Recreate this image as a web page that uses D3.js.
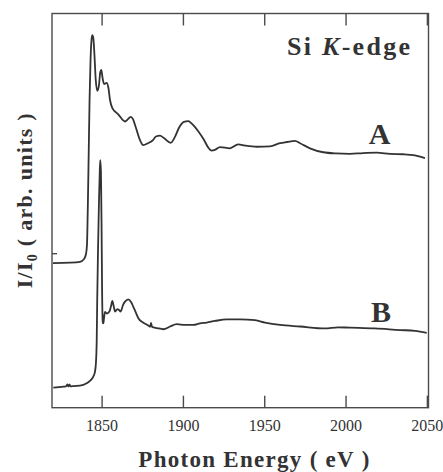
<!DOCTYPE html>
<html>
<head>
<meta charset="utf-8">
<script src="https://cdn.jsdelivr.net/npm/d3@7"></script>
<style>
  body { margin: 0; background: #fff; }
  text { font-family: "Liberation Serif", "Times New Roman", serif; fill: #333; }
</style>
</head>
<body>
<script>
// photon energy (eV) / intensity (arb. units)
var energyA = [1820.1, 1830.6, 1836.7, 1839.2, 1840.4, 1841.0, 1841.6, 1842.1, 1842.6, 1843.2, 1843.8, 1844.3, 1844.9, 1845.6, 1846.4, 1847.4, 1848.4, 1849.2, 1849.8, 1850.6, 1851.5, 1853.1, 1854.2, 1855.2, 1856.6, 1860.1, 1864.4, 1866.2, 1867.9, 1869.3, 1871.1, 1873.6, 1875.6, 1878.5, 1881.6, 1883.4, 1885.9, 1888.3, 1892.5, 1895.1, 1897.6, 1900.6, 1903.3, 1905.6, 1909.3, 1913.0, 1915.4, 1917.7, 1919.7, 1922.8, 1928.9, 1934.0, 1938.2, 1945.4, 1953.5, 1959.7, 1964.0, 1968.9, 1972.0, 1978.1, 1986.3, 1994.1, 2002.7, 2010.7, 2019.1, 2027.3, 2035.5, 2042.7, 2048.8];
var intensityA = [36.7, 36.8, 37.0, 37.7, 39.0, 41.3, 52.7, 65.4, 78.1, 88.2, 93.3, 94.5, 93.8, 89.5, 83.1, 80.4, 81.9, 85.2, 85.7, 83.6, 82.1, 82.4, 81.1, 78.0, 76.0, 74.5, 72.6, 73.2, 73.8, 73.2, 71.0, 67.9, 66.6, 67.1, 67.9, 68.8, 69.0, 68.4, 67.2, 68.7, 71.0, 72.5, 72.7, 72.0, 70.2, 67.9, 66.1, 65.2, 65.4, 66.1, 65.8, 66.8, 66.5, 66.2, 66.3, 67.1, 67.4, 67.7, 67.1, 65.8, 64.8, 64.5, 64.4, 64.6, 64.7, 64.4, 64.3, 64.0, 63.3];

var energyB = [1820.3, 1825.6, 1828.1, 1829.0, 1829.6, 1830.3, 1830.9, 1832.6, 1836.7, 1840.8, 1842.8, 1844.9, 1845.9, 1846.5, 1847.0, 1847.3, 1847.8, 1848.4, 1848.9, 1849.2, 1849.6, 1850.0, 1850.3, 1850.7, 1851.1, 1851.5, 1852.1, 1853.2, 1854.8, 1855.8, 1856.6, 1857.4, 1858.3, 1859.7, 1860.7, 1861.7, 1863.2, 1864.4, 1866.4, 1868.1, 1869.5, 1871.2, 1872.6, 1875.5, 1878.5, 1879.8, 1880.4, 1881.0, 1884.1, 1888.0, 1892.1, 1896.2, 1901.3, 1906.4, 1910.5, 1914.6, 1919.7, 1926.9, 1935.1, 1944.3, 1950.5, 1959.7, 1972.0, 1987.4, 1995.4, 2002.7, 2018.1, 2033.5, 2042.7, 2049.9];
var intensityB = [5.1, 5.3, 5.4, 5.9, 5.4, 5.9, 5.4, 5.5, 5.6, 6.2, 6.8, 7.9, 9.1, 11.3, 17.2, 27.3, 40.0, 52.7, 60.3, 62.8, 59.8, 45.1, 29.9, 21.7, 21.4, 22.8, 24.3, 23.9, 24.4, 25.8, 27.1, 25.8, 24.4, 25.0, 24.8, 24.4, 26.1, 26.9, 27.5, 26.8, 25.6, 24.0, 22.7, 21.6, 20.9, 20.5, 21.5, 20.5, 20.2, 19.9, 20.6, 21.2, 21.0, 21.0, 21.4, 21.6, 22.0, 22.4, 22.4, 22.2, 21.6, 21.0, 20.6, 20.1, 20.4, 20.3, 20.1, 19.7, 19.5, 19.0];

var xTicks = [1850, 1900, 1950, 2000, 2050];
var yTicks = [39.2];
var seriesNames = ["A", "B"];
var seriesLabelPos = [[2020.9, 66.9], [2021.8, 21.8]];

var screen = {width: 443, height: 472};
var plot = {left: 52, right: 428.5, top: 13.5, bottom: 407.7};

var svg = d3.select("body")
            .append("svg")
            .attr("width", screen.width)
            .attr("height", screen.height);

var xScale = d3.scaleLinear()
               .domain([1819.5, 2051])
               .range([plot.left, plot.right]);

var yScale = d3.scaleLinear()
               .domain([0, 100])
               .range([plot.bottom, plot.bottom - 394.2]);

var toPoints = function(xs, ys)
{
  return xs.map(function(x, i) { return [x, ys[i]]; });
}

var lineGenerator = d3.line()
                      .x(function(d) { return xScale(d[0]); })
                      .y(function(d) { return yScale(d[1]); })
                      .curve(d3.curveMonotoneX);

// frame
svg.append("rect")
   .attr("x", plot.left)
   .attr("y", plot.top)
   .attr("width", plot.right - plot.left)
   .attr("height", plot.bottom - plot.top)
   .attr("fill", "none")
   .attr("stroke", "#4a4a4a")
   .attr("stroke-width", 1.4);

// inward ticks, bottom (with labels) and top
var xAxisBottom = d3.axisBottom(xScale)
                    .tickValues(xTicks)
                    .tickSize(-12)
                    .tickPadding(12)
                    .tickFormat(d3.format("d"));

var xAxisTop = d3.axisTop(xScale)
                 .tickValues(xTicks)
                 .tickSize(-12)
                 .tickFormat("");

var yAxisLeft = d3.axisLeft(yScale)
                  .tickValues(yTicks)
                  .tickSize(-5)
                  .tickFormat("");

var gb = svg.append("g")
   .attr("transform", "translate(0," + plot.bottom + ")")
   .call(xAxisBottom);
gb.select(".domain").remove();
gb.selectAll("text")
  .attr("font-size", 16)
  .attr("fill", "#333")
  .style("font-family", "'Liberation Serif', serif");

var gt = svg.append("g")
   .attr("transform", "translate(0," + plot.top + ")")
   .call(xAxisTop);
gt.select(".domain").remove();

var gl = svg.append("g")
   .attr("transform", "translate(" + plot.left + ",0)")
   .call(yAxisLeft);
gl.select(".domain").remove();

svg.selectAll(".tick line")
   .attr("stroke", "#4a4a4a")
   .attr("stroke-width", 1.4);

// spectra
var curves = [toPoints(energyA, intensityA), toPoints(energyB, intensityB)];

svg.append("g")
   .selectAll("path")
   .data(curves)
   .enter()
   .append("path")
   .attr("d", lineGenerator)
   .attr("fill", "none")
   .attr("stroke", "#333")
   .attr("stroke-width", 1.8)
   .attr("stroke-linejoin", "round");

svg.append("g")
   .selectAll("text")
   .data(seriesNames)
   .enter()
   .append("text")
   .attr("x", function(d, i) { return xScale(seriesLabelPos[i][0]); })
   .attr("y", function(d, i) { return yScale(seriesLabelPos[i][1]); })
   .attr("text-anchor", "middle")
   .attr("font-size", 30)
   .attr("font-weight", "bold")
   .text(function(d) { return d; });

// title
var title = svg.append("text")
   .attr("x", 287)
   .attr("y", 55)
   .attr("font-size", 26)
   .attr("font-weight", "bold")
   .attr("textLength", 123)
   .attr("lengthAdjust", "spacing");
title.append("tspan").text("Si ");
title.append("tspan").attr("font-style", "italic").text("K");
title.append("tspan").text("-edge");

// axis titles
svg.append("text")
   .attr("x", 253.8)
   .attr("y", 467.3)
   .attr("text-anchor", "middle")
   .attr("font-size", 23)
   .attr("font-weight", "bold")
   .attr("textLength", 231)
   .attr("lengthAdjust", "spacing")
   .text("Photon Energy ( eV )");

var ylab = svg.append("text")
   .attr("transform", "translate(32,200.8) rotate(-90)")
   .attr("text-anchor", "middle")
   .attr("font-size", 22)
   .attr("font-weight", "bold")
   .attr("textLength", 175)
   .attr("lengthAdjust", "spacing");
ylab.append("tspan").text("I/I");
ylab.append("tspan").attr("font-size", 14).attr("dy", 5).text("0");
ylab.append("tspan").attr("dy", -5).text(" ( arb. units )");
</script>
</body>
</html>
